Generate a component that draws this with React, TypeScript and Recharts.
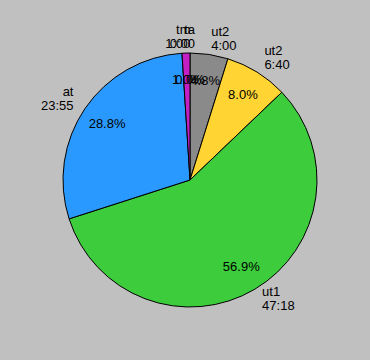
import { Cell, Pie, PieChart } from "recharts";

const names = ["ut2", "ut2", "ut1", "at", "tm", "ta"];
const times = ["4:00", "6:40", "47:18", "23:55", "1:00", "0:00"];
const shares = [4.8, 8.0, 56.9, 28.8, 1.0, 0.0];
const colors = ["#8a8a8a", "#ffd433", "#3ccc3c", "#2a99ff", "#c41fc4", "#888888"];

const data = names.map((name, i) => ({
  name,
  time: times[i],
  value: shares[i],
}));

const RAD = Math.PI / 180;
const FONT = "Liberation Sans, Arial, sans-serif";

const OuterLabel = (props: any) => {
  const { cx, cy, midAngle, outerRadius, index } = props;
  const r = outerRadius + 14;
  const sin = Math.cos(-midAngle * RAD);
  const cos = Math.sin(-midAngle * RAD);
  const nearTop = Math.abs(sin) < 0.1;
  const x = cx + r * sin + (nearTop ? 5 : 0);
  const y = cy + r * cos;
  const anchor = sin > 0.1 ? "start" : "end";
  return (
    <text x={x} y={y - 2} textAnchor={anchor} fill="#000" fontSize={13} fontFamily={FONT}>
      <tspan x={x} dy={-3}>
        {names[index]}
      </tspan>
      <tspan x={x} dy={14}>
        {times[index]}
      </tspan>
    </text>
  );
};

const InnerLabel = (props: any) => {
  const { cx, cy, midAngle, outerRadius, index } = props;
  const r = outerRadius * 0.79;
  const x = cx + r * Math.cos(-midAngle * RAD);
  const y = cy + r * Math.sin(-midAngle * RAD);
  return (
    <text
      x={x}
      y={y}
      textAnchor="middle"
      dominantBaseline="central"
      fill="#000"
      fontSize={13}
      fontFamily={FONT}
    >
      {shares[index].toFixed(1)}%
    </text>
  );
};

export default function App() {
  return (
    <div
      style={{
        position: "fixed",
        left: 0,
        top: 0,
        width: 370,
        height: 360,
        background: "#c0c0c0",
      }}
    >
      <PieChart width={370} height={360} margin={{ top: 0, right: 0, bottom: 0, left: 0 }}>
        <Pie
          data={data}
          dataKey="value"
          cx={190}
          cy={180}
          outerRadius={127}
          startAngle={90}
          endAngle={-270}
          stroke="#000"
          strokeWidth={1}
          label={OuterLabel}
          labelLine={false}
          isAnimationActive={false}
        >
          {data.map((d, i) => (
            <Cell key={i} fill={colors[i]} />
          ))}
        </Pie>
        <Pie
          data={data}
          dataKey="value"
          cx={190}
          cy={180}
          outerRadius={127}
          startAngle={90}
          endAngle={-270}
          fill="none"
          stroke="none"
          label={InnerLabel}
          labelLine={false}
          isAnimationActive={false}
        />
      </PieChart>
    </div>
  );
}
